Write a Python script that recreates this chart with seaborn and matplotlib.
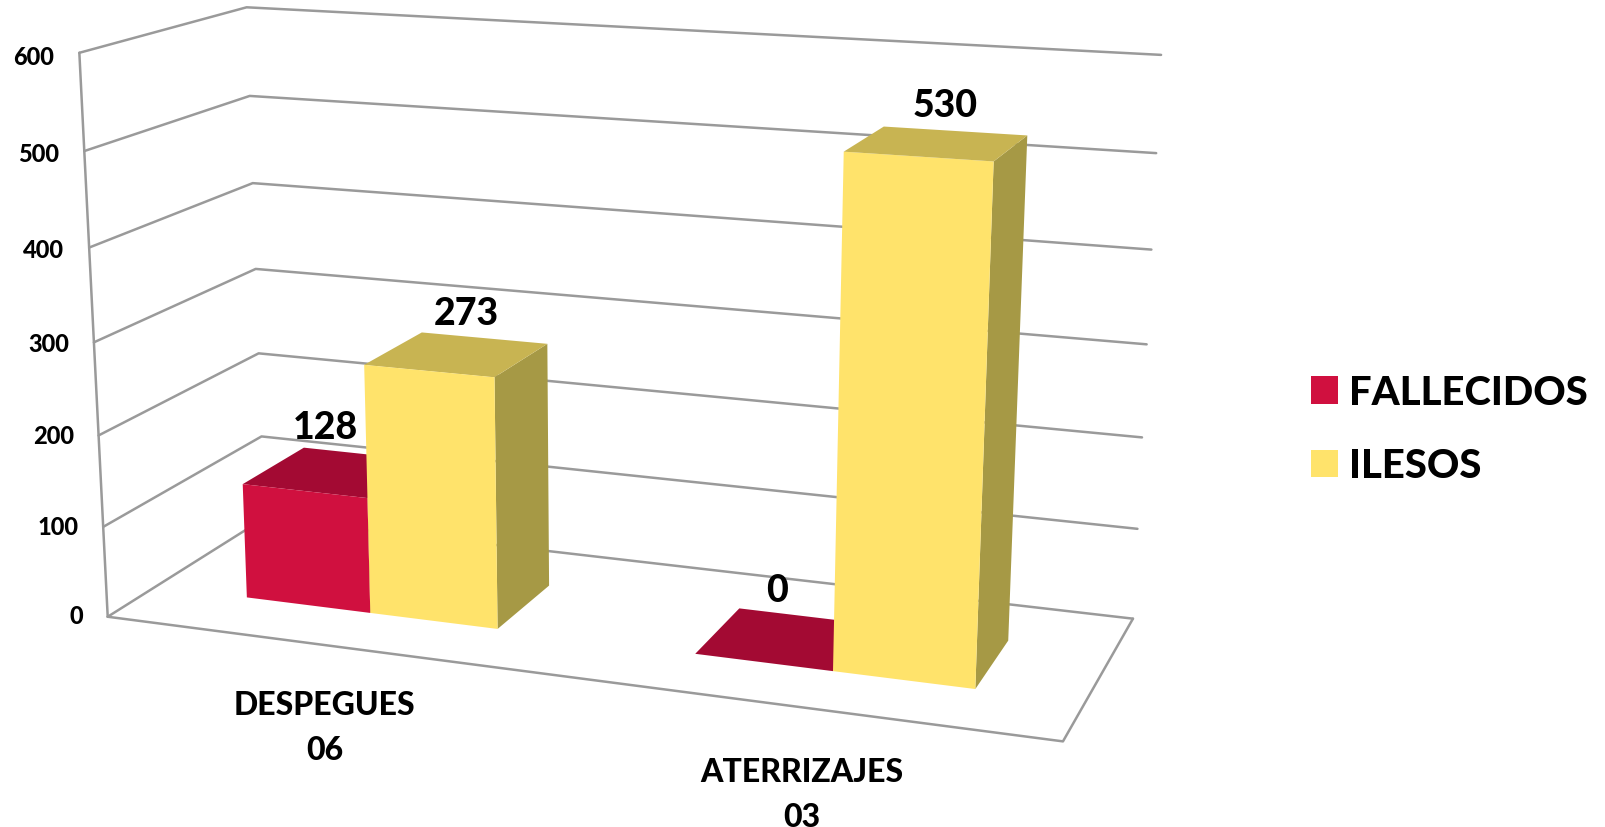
import numpy as np
import matplotlib
matplotlib.use("Agg")
import matplotlib.pyplot as plt
from matplotlib.patches import Patch
import seaborn as sns

categories = ["DESPEGUES\n06", "ATERRIZAJES\n03"]
series_names = ["FALLECIDOS", "ILESOS"]
fallecidos = [128, 0]
ilesos = [273, 530]
z_ticks = [0, 100, 200, 300, 400, 500, 600]

W, H = 1606, 828
FRONT_COLORS = ["#D0103F", "#FFE36B"]
TOP_COLORS = ["#A30A33", "#C8B452"]
SIDE_COLORS = ["#8A082B", "#A69945"]
GRID_COLOR = "#9A9A9A"

sns.set_theme(style="white")
plt.rcParams["font.family"] = ["Lato", "DejaVu Sans"]
plt.rcParams["font.weight"] = 900

# camera fitted on the corners of the chart box: (category, depth, value) -> pixel
box_world = np.array([(0, 0, 0), (0, 0, 600), (0, 1, 0), (0, 1, 600),
                      (2, 1, 0), (2, 1, 600), (2, 0, 0)], dtype=float)
box_pixel = np.array([(108, 617), (79, 54), (264, 520), (247, 8),
                      (1133, 619), (1161, 56), (1063, 743)], dtype=float)


def fit_camera(world, pixel):
    rows, rhs = [], []
    for (x, y, z), (u, v) in zip(world, pixel):
        rows.append([x, y, z, 1, 0, 0, 0, 0, -u * x, -u * y, -u * z])
        rows.append([0, 0, 0, 0, x, y, z, 1, -v * x, -v * y, -v * z])
        rhs += [u, v]
    p = np.linalg.lstsq(np.array(rows), np.array(rhs), rcond=None)[0]
    return np.array([p[:4], p[4:8], [0, 0, 0, -1], [*p[8:], 1]])


camera = fit_camera(box_world, box_pixel)

fig = plt.figure(figsize=(W / 100, H / 100), dpi=100, facecolor="white")
ax = fig.add_axes([0, 0, 1, 1], projection="3d", computed_zorder=False)
ax.set_axis_off()


def pixel_proj():
    # pixel coordinates -> whatever 2D limits the 3D axes keeps
    x0, x1 = ax.viewLim.intervalx
    y0, y1 = ax.viewLim.intervaly
    scale = np.array([[(x1 - x0) / W, 0, 0, x0],
                      [0, -(y1 - y0) / H, 0, y1],
                      [0, 0, 1, 0],
                      [0, 0, 0, 1]])
    return scale @ camera


ax.get_proj = pixel_proj
ax.apply_aspect = lambda position=None: None

# walls and floor
for z in z_ticks:
    ax.plot([0, 0, 2], [0, 1, 1], [z, z, z], color=GRID_COLOR, lw=1.8, zorder=1)
ax.plot([0, 0], [0, 0], [0, 600], color=GRID_COLOR, lw=1.8, zorder=1)
ax.plot([0, 2, 2], [0, 0, 1], [0, 0, 0], color=GRID_COLOR, lw=1.8, zorder=1)

# bars
BAR_W = 0.286
DEPTH0, DEPTH1 = 0.29, 0.695
group_left = [0.215, 1.214]
label_shift = [(-0.09, -0.04), (-0.06, -0.02)]
cat_shift = [-0.006, 0.005]
for i, (left, cat) in enumerate(zip(group_left, categories)):
    for s, values in enumerate([fallecidos, ilesos]):
        clear = (0, 0, 0, 0)
        # bottom, top, front, back, left, right
        faces = [clear, TOP_COLORS[s], FRONT_COLORS[s], clear, clear, SIDE_COLORS[s]]
        ax.bar3d(left + s * BAR_W, DEPTH0, 0, BAR_W, DEPTH1 - DEPTH0, values[i],
                 color=faces, shade=False, linewidth=0, zorder=2 + s)
        ax.text(left + (s + 0.5) * BAR_W + label_shift[i][s], DEPTH1, values[i] + 14, str(values[i]),
                ha="center", va="baseline", fontsize=27, color="black", zorder=5)
    ax.text(left + BAR_W - 0.005 + cat_shift[i], 0, -91, cat, ha="center", va="center",
            fontsize=23, color="black", linespacing=1.65, zorder=5)

for z in z_ticks:
    ax.text(-0.058, 0, z - 2 - z / 200, str(z), ha="right", va="center", fontsize=17, color="black", zorder=5)

handles = [Patch(facecolor=c, edgecolor="none") for c in FRONT_COLORS]
fig.legend(handles, series_names, loc="upper left", bbox_to_anchor=(1311 / W, 1 - 375 / H),
           frameon=False, fontsize=28.8, labelcolor="black", handlelength=0.67, handleheight=0.67,
           handletextpad=0.28, labelspacing=0.91, borderaxespad=0, borderpad=0)

fig.savefig("out.png", dpi=100)
